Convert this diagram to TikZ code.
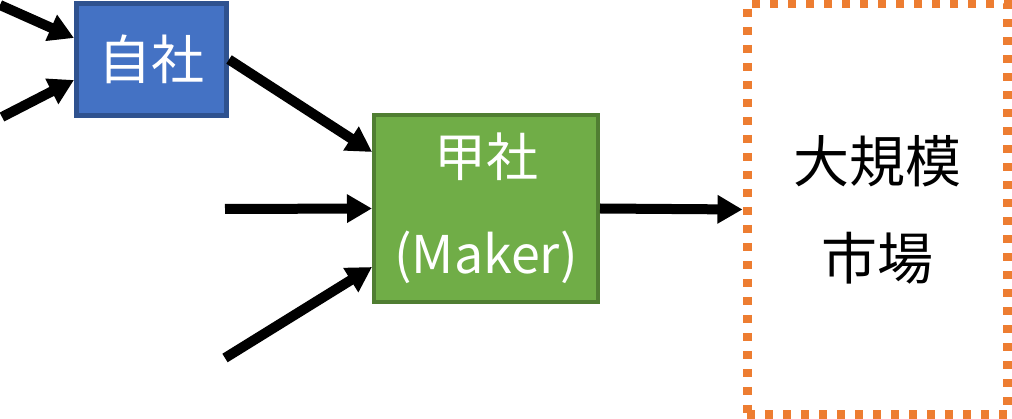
\documentclass[tikz,border=0pt]{standalone}
\usepackage{fontspec}
\setmainfont{Noto Sans CJK JP}
\usetikzlibrary{arrows.meta}
\definecolor{bluefill}{HTML}{4472C4}
\definecolor{blueline}{HTML}{2F528F}
\definecolor{greenfill}{HTML}{70AD47}
\definecolor{greenline}{HTML}{507E32}
\definecolor{orangeline}{HTML}{ED7D31}
\tikzset{
  conn/.style={line width=10pt, -{Triangle[length=25pt,width=27pt]}},
  firmbox/.style={rectangle, inner sep=0pt, align=center, text=white},
}
\begin{document}
\begin{tikzpicture}[x=1pt,y=-1pt]
\useasboundingbox (0,0) rectangle (1012,419);
\node[firmbox, fill=bluefill, draw=blueline, line width=5pt,
  minimum width=150pt, minimum height=112pt,
  font=\fontsize{53}{97}\selectfont] (jisha) at (151.5,59.5) {自社};
\node[firmbox, fill=greenfill, draw=greenline, line width=4pt,
  minimum width=224pt, minimum height=187pt,
  font=\fontsize{52}{97}\selectfont] (kosha) at (486,208.5) {\raisebox{-4pt}{甲社}\\\raisebox{-4pt}{(Maker)}};
\node[rectangle, inner sep=0pt, draw=orangeline, line width=9pt,
  dash pattern=on 8pt off 10pt, minimum width=260pt, minimum height=411pt,
  align=center, font=\fontsize{56}{97}\selectfont] (market) at (877,209.5) {大規模\\市場};
\coordinate (a1s) at (0,5);
\coordinate (a1e) at (74,38);
\coordinate (a2s) at (2,117);
\coordinate (a2e) at (74,80);
\coordinate (b1e) at (372,152);
\coordinate (b2s) at (225,209);
\coordinate (b3s) at (225,358);
\coordinate (b3e) at (372,267);
\draw[conn] (a1s) -- (a1e);
\draw[conn] (a2s) -- (a2e);
\draw[conn] (jisha.east) -- (b1e);
\draw[conn] (b2s) -- (kosha.west);
\draw[conn] (b3s) -- (b3e);
\draw[conn] (kosha.east) -- (market.west);
\end{tikzpicture}
\end{document}
